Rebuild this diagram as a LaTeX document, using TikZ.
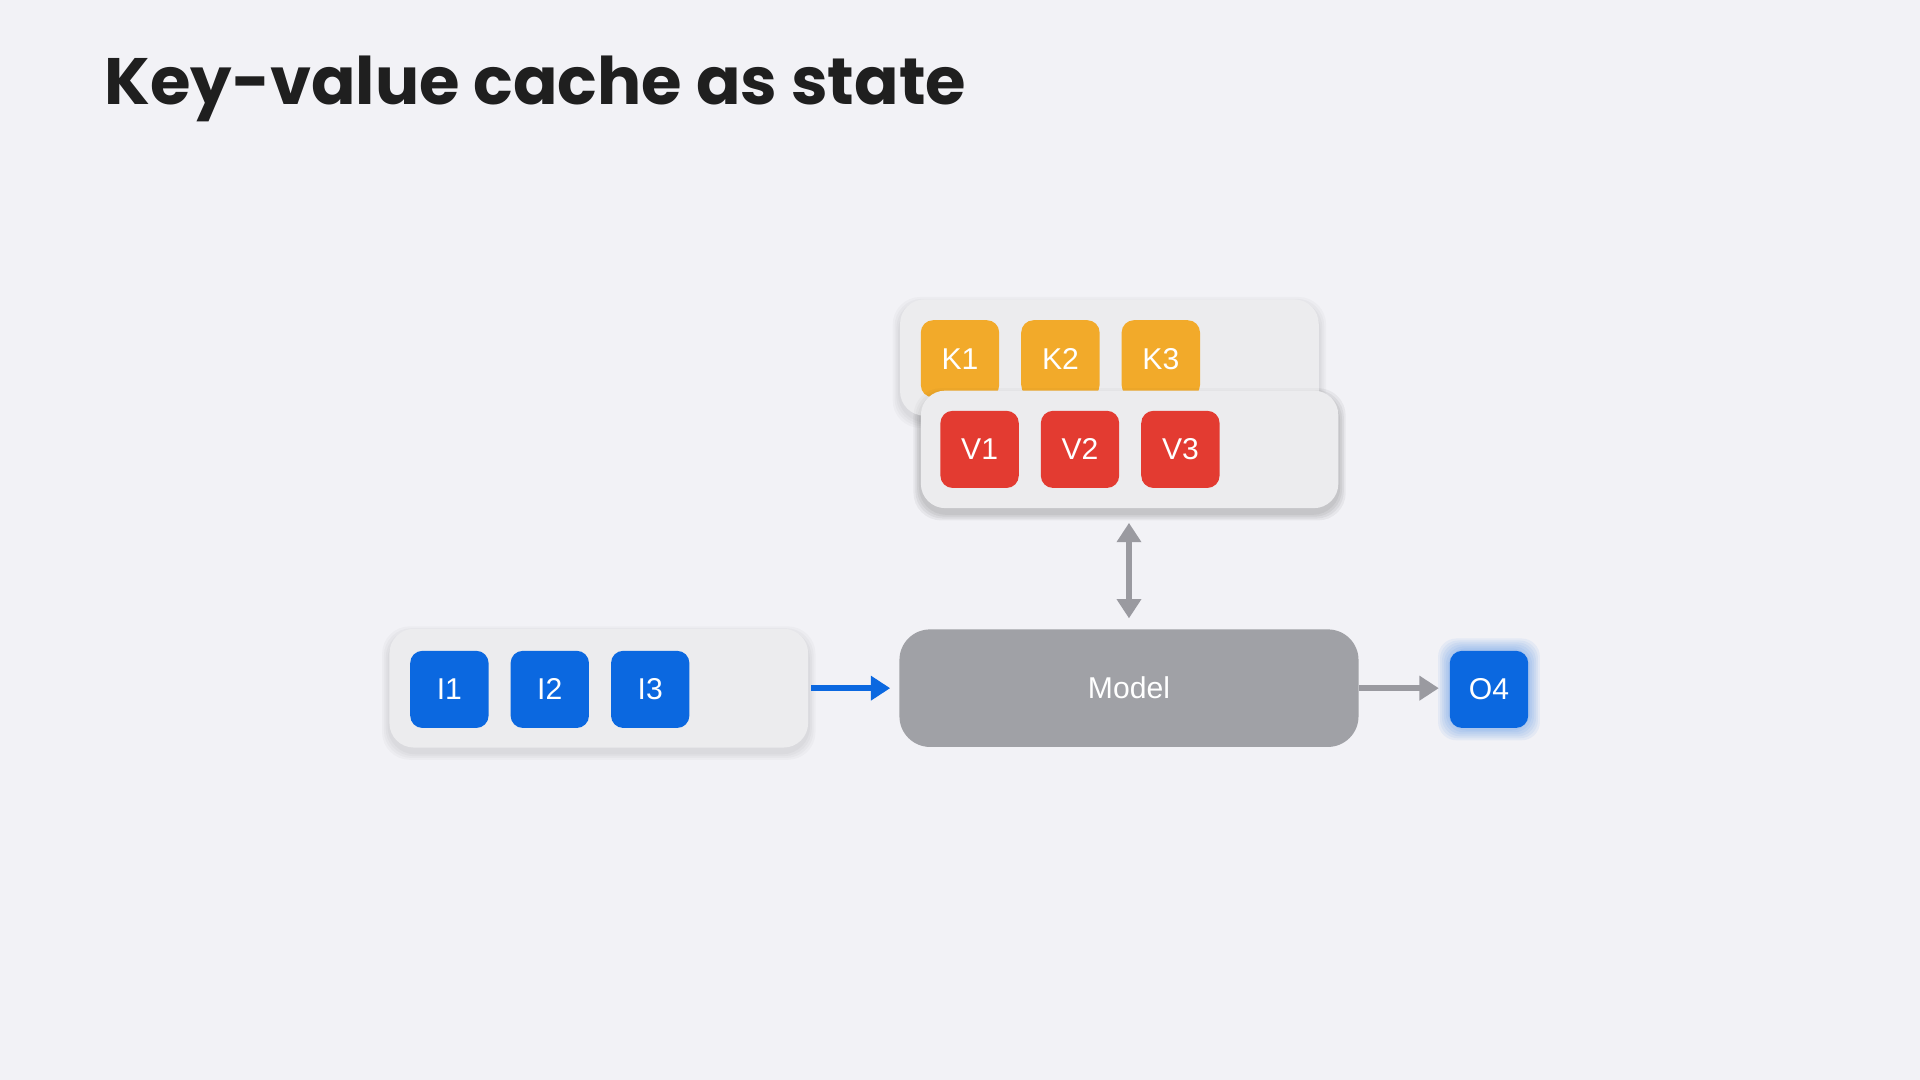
\documentclass[tikz,border=0pt]{standalone}
\usepackage{fontspec}
\setmainfont{Liberation Sans}
\newfontfamily\titlefont{Poppins}
\usetikzlibrary{arrows.meta}
\definecolor{bg}{HTML}{F2F2F6}
\definecolor{cont}{HTML}{ECECEE}
\definecolor{kcol}{HTML}{F2AA2A}
\definecolor{vcol}{HTML}{E33B31}
\definecolor{icol}{HTML}{0B68E0}
\definecolor{mcol}{HTML}{A0A1A6}
\definecolor{acol}{HTML}{9A9AA0}
\begin{document}
\begin{tikzpicture}[x=0.02cm,y=-0.02cm,
  container/.style={draw=none,fill=cont,rounded corners=0.4cm},
  tok/.style={rounded corners=0.2cm,minimum width=1.28cm,minimum height=1.26cm,inner sep=0pt,text=white,font=\fontsize{14}{16}\selectfont},
  arr/.style={line width=2.5pt,-{Triangle[length=9pt,width=11pt]}}]
\fill[bg] (0,0) rectangle (1568,882);
\node[anchor=west,font=\titlefont\bfseries\fontsize{30.5}{34}\selectfont,text=black!88,inner sep=0pt] (title) at (85,73) {Key-value cache as state};
% soft shadows
\foreach \c/\w/\h/\cx/\cy in {kc/342/95/906/292, vc/341/96/922.5/367, ic/342/97/489/562}{
  \foreach \i in {1,...,4}{
    \fill[black,opacity=0.025,rounded corners=0.45cm] (\cx-\w/2-\i*1.5,\cy-\h/2-\i*1.5+4) rectangle (\cx+\w/2+\i*1.5,\cy+\h/2+\i*1.5+4);
  }
}
\node[container,minimum width=6.84cm,minimum height=1.9cm] (kc) at (906,292) {};
\node[tok,fill=kcol] (k1) at (784,293) {K1};
\node[tok,fill=kcol] (k2) at (866,293) {K2};
\node[tok,fill=kcol] (k3) at (948,293) {K3};
\foreach \i in {1,...,4}{
  \fill[black,opacity=0.025,rounded corners=0.45cm] (922.5-170.5-\i*1.5,319-\i*1.5+4) rectangle (922.5+170.5+\i*1.5,415+\i*1.5+4);
}
\node[container,minimum width=6.82cm,minimum height=1.92cm] (vc) at (922.5,367) {};
\node[tok,fill=vcol] (v1) at (800,367) {V1};
\node[tok,fill=vcol] (v2) at (882,367) {V2};
\node[tok,fill=vcol] (v3) at (964,367) {V3};
\node[container,minimum width=6.84cm,minimum height=1.94cm] (ic) at (489,562) {};
\node[tok,fill=icol] (i1) at (367,563) {I1};
\node[tok,fill=icol] (i2) at (449,563) {I2};
\node[tok,fill=icol] (i3) at (531,563) {I3};
\node[fill=mcol,rounded corners=0.5cm,minimum width=7.5cm,minimum height=1.92cm,text=white,font=\fontsize{14}{16}\selectfont] (model) at (922,562) {Model};
% glow for O4
\foreach \i in {1,...,6}{
  \fill[icol,opacity=0.06,rounded corners=0.3cm] (1216-32-\i*1.6,563-32-\i*1.6) rectangle (1216+32+\i*1.6,563+32+\i*1.6);
}
\node[tok,fill=icol] (o4) at (1216,563) {O4};
\coordinate (ia) at (727,562);
\coordinate (oa) at (1175,562);
\coordinate (va) at (922,427);
\coordinate (vb) at (922,505);
\draw[arr,icol] (ic.east) ++(2,0) -- (ia);
\draw[arr,acol] (model.east) -- (oa);
\draw[line width=2.5pt,acol,{Triangle[length=9pt,width=11pt]}-{Triangle[length=9pt,width=11pt]}] (va) -- (vb);
\end{tikzpicture}
\end{document}
